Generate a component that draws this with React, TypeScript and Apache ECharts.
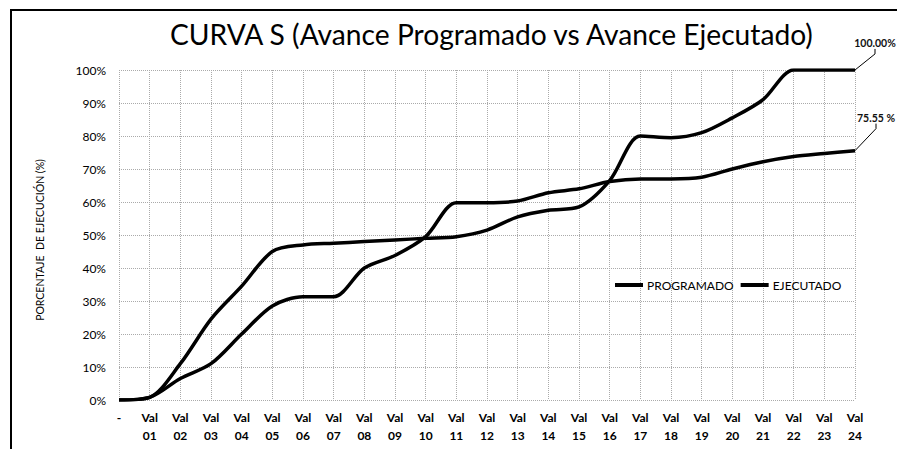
import React, { useEffect, useRef } from "react";
import * as echarts from "echarts";

const categories = ["-", "Val\n01", "Val\n02", "Val\n03", "Val\n04", "Val\n05", "Val\n06", "Val\n07", "Val\n08", "Val\n09", "Val\n10", "Val\n11", "Val\n12", "Val\n13", "Val\n14", "Val\n15", "Val\n16", "Val\n17", "Val\n18", "Val\n19", "Val\n20", "Val\n21", "Val\n22", "Val\n23", "Val\n24"];
const programado = [0, 0.8, 11, 24.5, 34.5, 45, 47, 47.5, 48, 48.5, 49, 49.5, 51.5, 55.5, 57.5, 58.5, 66.5, 80, 79.5, 81, 85.5, 91, 100, 100, 100];
const ejecutado = [0, 0.8, 6.5, 11, 20, 28.5, 31.3, 31.3, 40, 43.8, 49.5, 59.8, 59.8, 60.3, 62.8, 64, 66.2, 67, 67, 67.5, 70, 72.2, 73.8, 74.7, 75.55];
const yTicks = [0, 10, 20, 30, 40, 50, 60, 70, 80, 90, 100];
const seriesNames = ["PROGRAMADO", "EJECUTADO"];
const endLabels = ["100.00%", "75.55 %"];

const FONT = "Lato, 'Open Sans', sans-serif";

export default function App() {
  const ref = useRef<HTMLDivElement>(null);
  useEffect(() => {
    if (!ref.current) return;
    const chart = echarts.init(ref.current, undefined, { renderer: "svg" });
    const last = categories.length - 1;
    const mkData = (arr: number[], lbl: string) =>
      arr.map((v, i) =>
        i === last
          ? {
              value: v,
              label: {
                show: true,
                formatter: lbl,
                fontFamily: FONT,
                fontSize: 10.5,
                fontWeight: "bold",
                color: "#111",
                position: "top",
              },
              labelLine: { show: true, length2: 5, lineStyle: { color: "#000", width: 1 } },
            }
          : v
      );
    chart.setOption({
      animation: false,
      backgroundColor: "#fff",
      title: {
        text: "CURVA S (Avance Programado vs Avance Ejecutado)",
        left: 170,
        top: 20,
        padding: 0,
        textStyle: { fontFamily: FONT, fontSize: 28.2, fontWeight: "normal", color: "#000" },
      },
      graphic: [
        {
          type: "rect",
          shape: { x: 11, y: 10, width: 1000, height: 600 },
          style: { fill: "none", stroke: "#000", lineWidth: 2 },
          silent: true,
        },
      ],
      legend: {
        data: seriesNames,
        left: 615,
        top: 279,
        padding: 0,
        itemWidth: 28,
        itemHeight: 4,
        itemGap: 7,
        icon: "rect",
        textStyle: { fontFamily: FONT, fontSize: 12, color: "#000", padding: [0, 0, 0, -1] },
      },
      grid: { left: 119, right: 42, top: 70, bottom: 49, containLabel: false },
      xAxis: {
        type: "category",
        data: categories,
        boundaryGap: false,
        axisLine: { show: false },
        axisTick: { show: false },
        axisLabel: {
          interval: 0,
          margin: 8,
          fontFamily: FONT,
          fontSize: 12,
          fontWeight: "bold",
          lineHeight: 18,
          color: "#000",
        },
        splitLine: { show: true, lineStyle: { color: "#aaa", type: "dotted", width: 1 } },
      },
      yAxis: {
        type: "value",
        min: yTicks[0],
        max: yTicks[yTicks.length - 1],
        interval: 10,
        name: "PORCENTAJE  DE EJECUCIÓN (%)",
        nameLocation: "middle",
        nameGap: 74,
        nameTextStyle: { fontFamily: FONT, fontSize: 10.5, color: "#000", padding: [0, 10, 0, 0] },
        axisLine: { show: false },
        axisTick: { show: false },
        axisLabel: {
          margin: 13,
          fontFamily: FONT,
          fontSize: 12,
          color: "#000",
          formatter: (v: number) => v + "%",
        },
        splitLine: { show: true, lineStyle: { color: "#aaa", type: "dotted", width: 1 } },
      },
      series: [
        {
          name: seriesNames[0],
          type: "line",
          data: mkData(programado, endLabels[0]),
          smooth: 0.3,
          symbol: "circle",
          symbolSize: 0.1,
          showSymbol: true,
          lineStyle: { color: "#000", width: 3.5 },
          itemStyle: { color: "#000" },
          labelLayout: (p: any) => (p.dataIndex === last ? { dx: 20, dy: -16 } : {}),
        },
        {
          name: seriesNames[1],
          type: "line",
          data: mkData(ejecutado, endLabels[1]),
          smooth: 0.3,
          symbol: "circle",
          symbolSize: 0.1,
          showSymbol: true,
          lineStyle: { color: "#000", width: 3.5 },
          itemStyle: { color: "#000" },
          labelLayout: (p: any) => (p.dataIndex === last ? { dx: 21, dy: -22 } : {}),
        },
      ],
    });
    return () => chart.dispose();
  }, []);
  return (
    <div
      ref={ref}
      style={{ position: "absolute", left: 0, top: 0, width: 897, height: 449 }}
    />
  );
}
